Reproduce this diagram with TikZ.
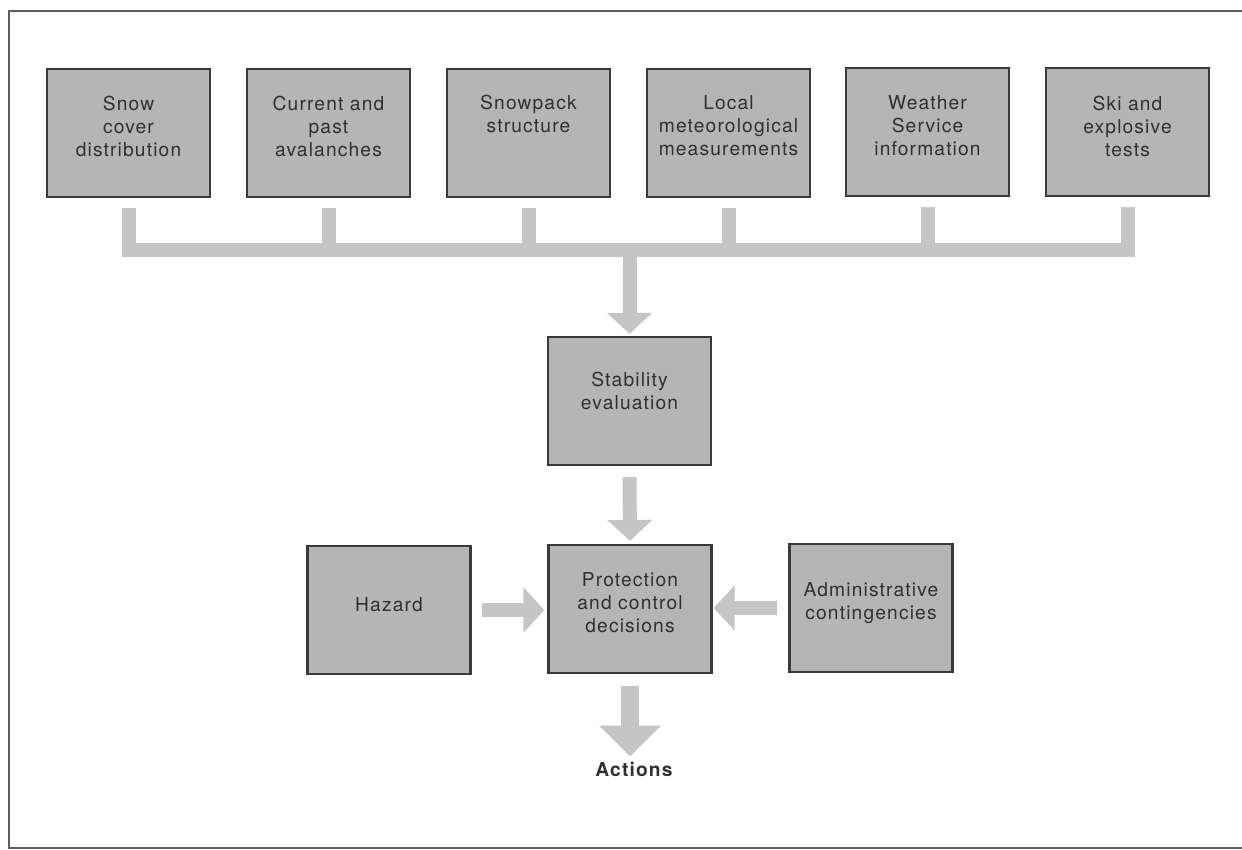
\documentclass[tikz,border=0pt]{standalone}
\usepackage{fontspec}
\setmainfont{TeX Gyre Heros}[LetterSpace=6]
\usetikzlibrary{arrows.meta}
\definecolor{boxfill}{RGB}{181,181,181}
\definecolor{boxdraw}{RGB}{58,58,58}
\definecolor{arrowgray}{RGB}{197,197,197}
\definecolor{txtcol}{RGB}{48,48,48}
\definecolor{framecol}{RGB}{95,95,95}
\begin{document}
\begin{tikzpicture}[x=1pt,y=-1pt,
  box/.style={draw=boxdraw, fill=boxfill, line width=2.2pt, minimum width=163pt, minimum height=128pt, inner sep=0pt},
  txt/.style={text=txtcol, align=center, inner sep=0pt, font=\fontsize{19.2}{23}\selectfont},
  bar/.style={draw=arrowgray, line width=14pt},
  fat/.style={draw=arrowgray, line width=14pt, -{Triangle[width=44pt,length=21pt]}},
  bigfat/.style={draw=arrowgray, line width=18pt, -{Triangle[width=60pt,length=31pt]}},
  framestyle/.style={draw=framecol, line width=1.8pt},
]
\useasboundingbox (0,0) rectangle (1242,850);
\fill[white] (0,0) rectangle (1242,850);
\coordinate (fTR) at (1242,11);
\coordinate (fTL) at (9,11);
\coordinate (fBL) at (9,848);
\coordinate (fBR) at (1242,848);
\draw[framestyle] (fTR) -- (fTL) -- (fBL) -- (fBR);

% top boxes
\node[box] (b1) at (128.5,133) {};
\node[box] (b2) at (328.5,133) {};
\node[box] (b3) at (528.5,133) {};
\node[box] (b4) at (728.5,133) {};
\node[box] (b5) at (927.5,132) {};
\node[box] (b6) at (1127.5,132) {};
\node[txt] (t1) at (128.5,126) {Snow\\cover\\distribution};
\node[txt] (t2) at (328.5,126) {Current and\\past\\avalanches};
\node[txt] (t3) at (528.5,114) {Snowpack\\structure};
\node[txt] (t4) at (728.5,126) {Local\\meteorological\\measurements};
\node[txt] (t5) at (927.5,126) {Weather\\Service\\information};
\node[txt] (t6) at (1127.5,126) {Ski and\\explosive\\tests};

% middle / bottom boxes
\node[box] (stab) at (629.5,401) {};
\node[txt] (tstab) at (629.5,391) {Stability\\evaluation};
\node[box] (haz) at (389,610) {};
\node[txt] (thaz) at (389,605) {Hazard};
\node[box] (prot) at (630,609) {};
\node[txt] (tprot) at (630,603) {Protection\\and control\\decisions};
\node[box] (adm) at (871,608) {};
\node[txt] (tadm) at (871,603) {Administrative\\contingencies};
\node[txt, font=\fontsize{19.2}{23}\selectfont\bfseries] (act) at (634,769) {Actions};

% bus
\coordinate (busL) at (128.5,250.5);
\coordinate (busR) at (1127.5,250.5);
\draw[bar, line join=miter] ([yshift=-10pt]b1.south) -- (busL) -- (busR) -- ([yshift=-10pt]b6.south);
\foreach \b in {b2,b3,b4,b5}
  \draw[bar] ([yshift=-10pt]\b.south) -- (\b.south |- busL);

% arrows
\draw[fat] (stab.north |- busL) -- ([yshift=2pt]stab.north);
\draw[fat] ([yshift=-11pt]stab.south) -- ([yshift=3pt]prot.north);
\draw[fat] ([xshift=10pt]haz.east) -- ([xshift=-3pt]prot.west |- haz.east);
\draw[fat] ([xshift=-11pt]adm.west) -- ([xshift=1pt]prot.east |- adm.west);
\draw[bigfat] ([yshift=-12pt]prot.south) -- ([yshift=5pt]prot.south |- act.north);
\end{tikzpicture}
\end{document}
